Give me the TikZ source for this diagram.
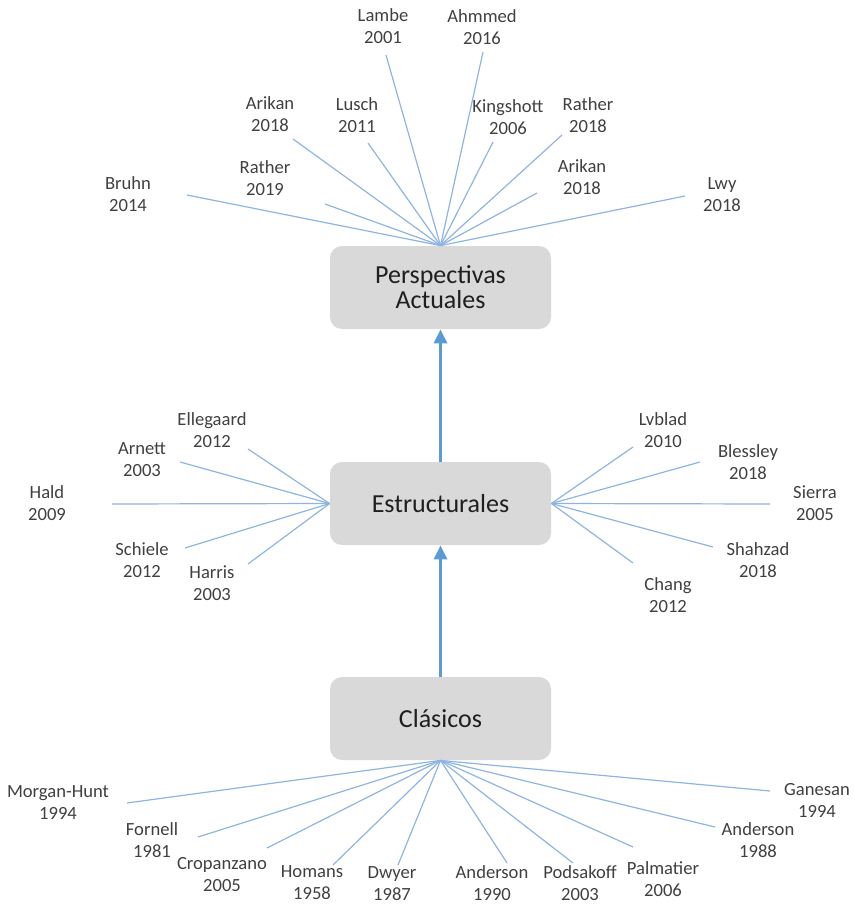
\documentclass[tikz,border=0pt]{standalone}
\usepackage{fontspec}
\setmainfont{Carlito}
\usetikzlibrary{arrows.meta}
\definecolor{boxgray}{HTML}{D9D9D9}
\definecolor{rayblue}{HTML}{8EB4E3}
\definecolor{arrowblue}{HTML}{5B9BD5}
\definecolor{txtgray}{HTML}{404040}
\tikzstyle{stage}=[rectangle, rounded corners=6pt, fill=boxgray, minimum width=110.5pt, minimum height=41.5pt, align=center, font=\fontsize{13}{12.5}\selectfont, text=black!88]
\tikzstyle{cite}=[align=center, font=\fontsize{9.3}{11}\selectfont, text=txtgray, inner sep=0pt]
\tikzstyle{ray}=[rayblue, line width=0.6pt]
\tikzstyle{flow}=[arrowblue, line width=1.6pt, -{Triangle[width=6.5pt,length=7pt]}]

\begin{document}
\begin{tikzpicture}[x=0.5pt, y=-0.5pt]
    \useasboundingbox (0,0) rectangle (854,904);
    \node[stage] (pers) at (440.5,287.5) {Perspectivas\\Actuales};
    \node[stage] (estr) at (440.5,503.5) {Estructurales};
    \node[stage] (clas) at (440.5,718.5) {Clásicos};
    \draw[flow] (estr.north) -- (pers.south);
    \draw[flow] (clas.north) -- (estr.south);
    \coordinate (e1) at (187,195);
    \coordinate (e2) at (325,204);
    \coordinate (e3) at (293,139);
    \coordinate (e4) at (368,143);
    \coordinate (e5) at (386,55);
    \coordinate (e6) at (483,52);
    \coordinate (e7) at (493,142);
    \coordinate (e8) at (562,135);
    \coordinate (e9) at (537,193);
    \coordinate (e10) at (685,196);
    \coordinate (l1) at (248,449);
    \coordinate (l2) at (180,462);
    \coordinate (l3) at (112,504);
    \coordinate (l4) at (185,548);
    \coordinate (l5) at (248,564);
    \coordinate (r1) at (633,447);
    \coordinate (r2) at (700,462);
    \coordinate (r3) at (770,504);
    \coordinate (r4) at (713,547);
    \coordinate (r5) at (633,563);
    \coordinate (b1) at (127,803);
    \coordinate (b2) at (198,837);
    \coordinate (b3) at (267,848);
    \coordinate (b4) at (333,865);
    \coordinate (b5) at (398,865);
    \coordinate (b6) at (507,863);
    \coordinate (b7) at (573,863);
    \coordinate (b8) at (633,847);
    \coordinate (b9) at (715,827);
    \coordinate (b10) at (770,791);
    \foreach \i in {1,...,10} \draw[ray] (pers.north) -- (e\i);
    \foreach \i in {1,...,5} \draw[ray] (estr.west) -- (l\i);
    \foreach \i in {1,...,5} \draw[ray] (estr.east) -- (r\i);
    \foreach \i in {1,...,10} \draw[ray] (clas.south) -- (b\i);
    \node[cite] (bruhn) at (128,194) {Bruhn\\2014};
    \node[cite] (rather19) at (265,178) {Rather\\2019};
    \node[cite] (arikan18a) at (270,114) {Arikan\\2018};
    \node[cite] (lusch) at (357,115) {Lusch\\2011};
    \node[cite] (lambe) at (383,26) {Lambe\\2001};
    \node[cite] (ahmmed) at (482,27) {Ahmmed\\2016};
    \node[cite] (kingshott) at (508,117) {Kingshott\\2006};
    \node[cite] (rather18) at (588,115) {Rather\\2018};
    \node[cite] (arikan18b) at (582,177) {Arikan\\2018};
    \node[cite] (lwy) at (722,195) {Lwy\\2018};
    \node[cite] (ellegaard) at (212,430) {Ellegaard\\2012};
    \node[cite] (arnett) at (142,460) {Arnett\\2003};
    \node[cite] (hald) at (47,503) {Hald\\2009};
    \node[cite] (schiele) at (142,560) {Schiele\\2012};
    \node[cite] (harris) at (212,583) {Harris\\2003};
    \node[cite] (lvblad) at (663,430) {Lvblad\\2010};
    \node[cite] (blessley) at (748,462) {Blessley\\2018};
    \node[cite] (sierra) at (815,503) {Sierra\\2005};
    \node[cite] (shahzad) at (758,560) {Shahzad\\2018};
    \node[cite] (chang) at (668,595) {Chang\\2012};
    \node[cite] (morgan) at (58,803) {Morgan-Hunt\\1994};
    \node[cite] (fornell) at (152,840) {Fornell\\1981};
    \node[cite] (cropanzano) at (222,875) {Cropanzano\\2005};
    \node[cite] (homans) at (312,883) {Homans\\1958};
    \node[cite] (dwyer) at (392,884) {Dwyer\\1987};
    \node[cite] (anderson90) at (492,883) {Anderson\\1990};
    \node[cite] (podsakoff) at (580,883) {Podsakoff\\2003};
    \node[cite] (palmatier) at (663,879) {Palmatier\\2006};
    \node[cite] (anderson88) at (758,840) {Anderson\\1988};
    \node[cite] (ganesan) at (817,800) {Ganesan\\1994};
\end{tikzpicture}
\end{document}
